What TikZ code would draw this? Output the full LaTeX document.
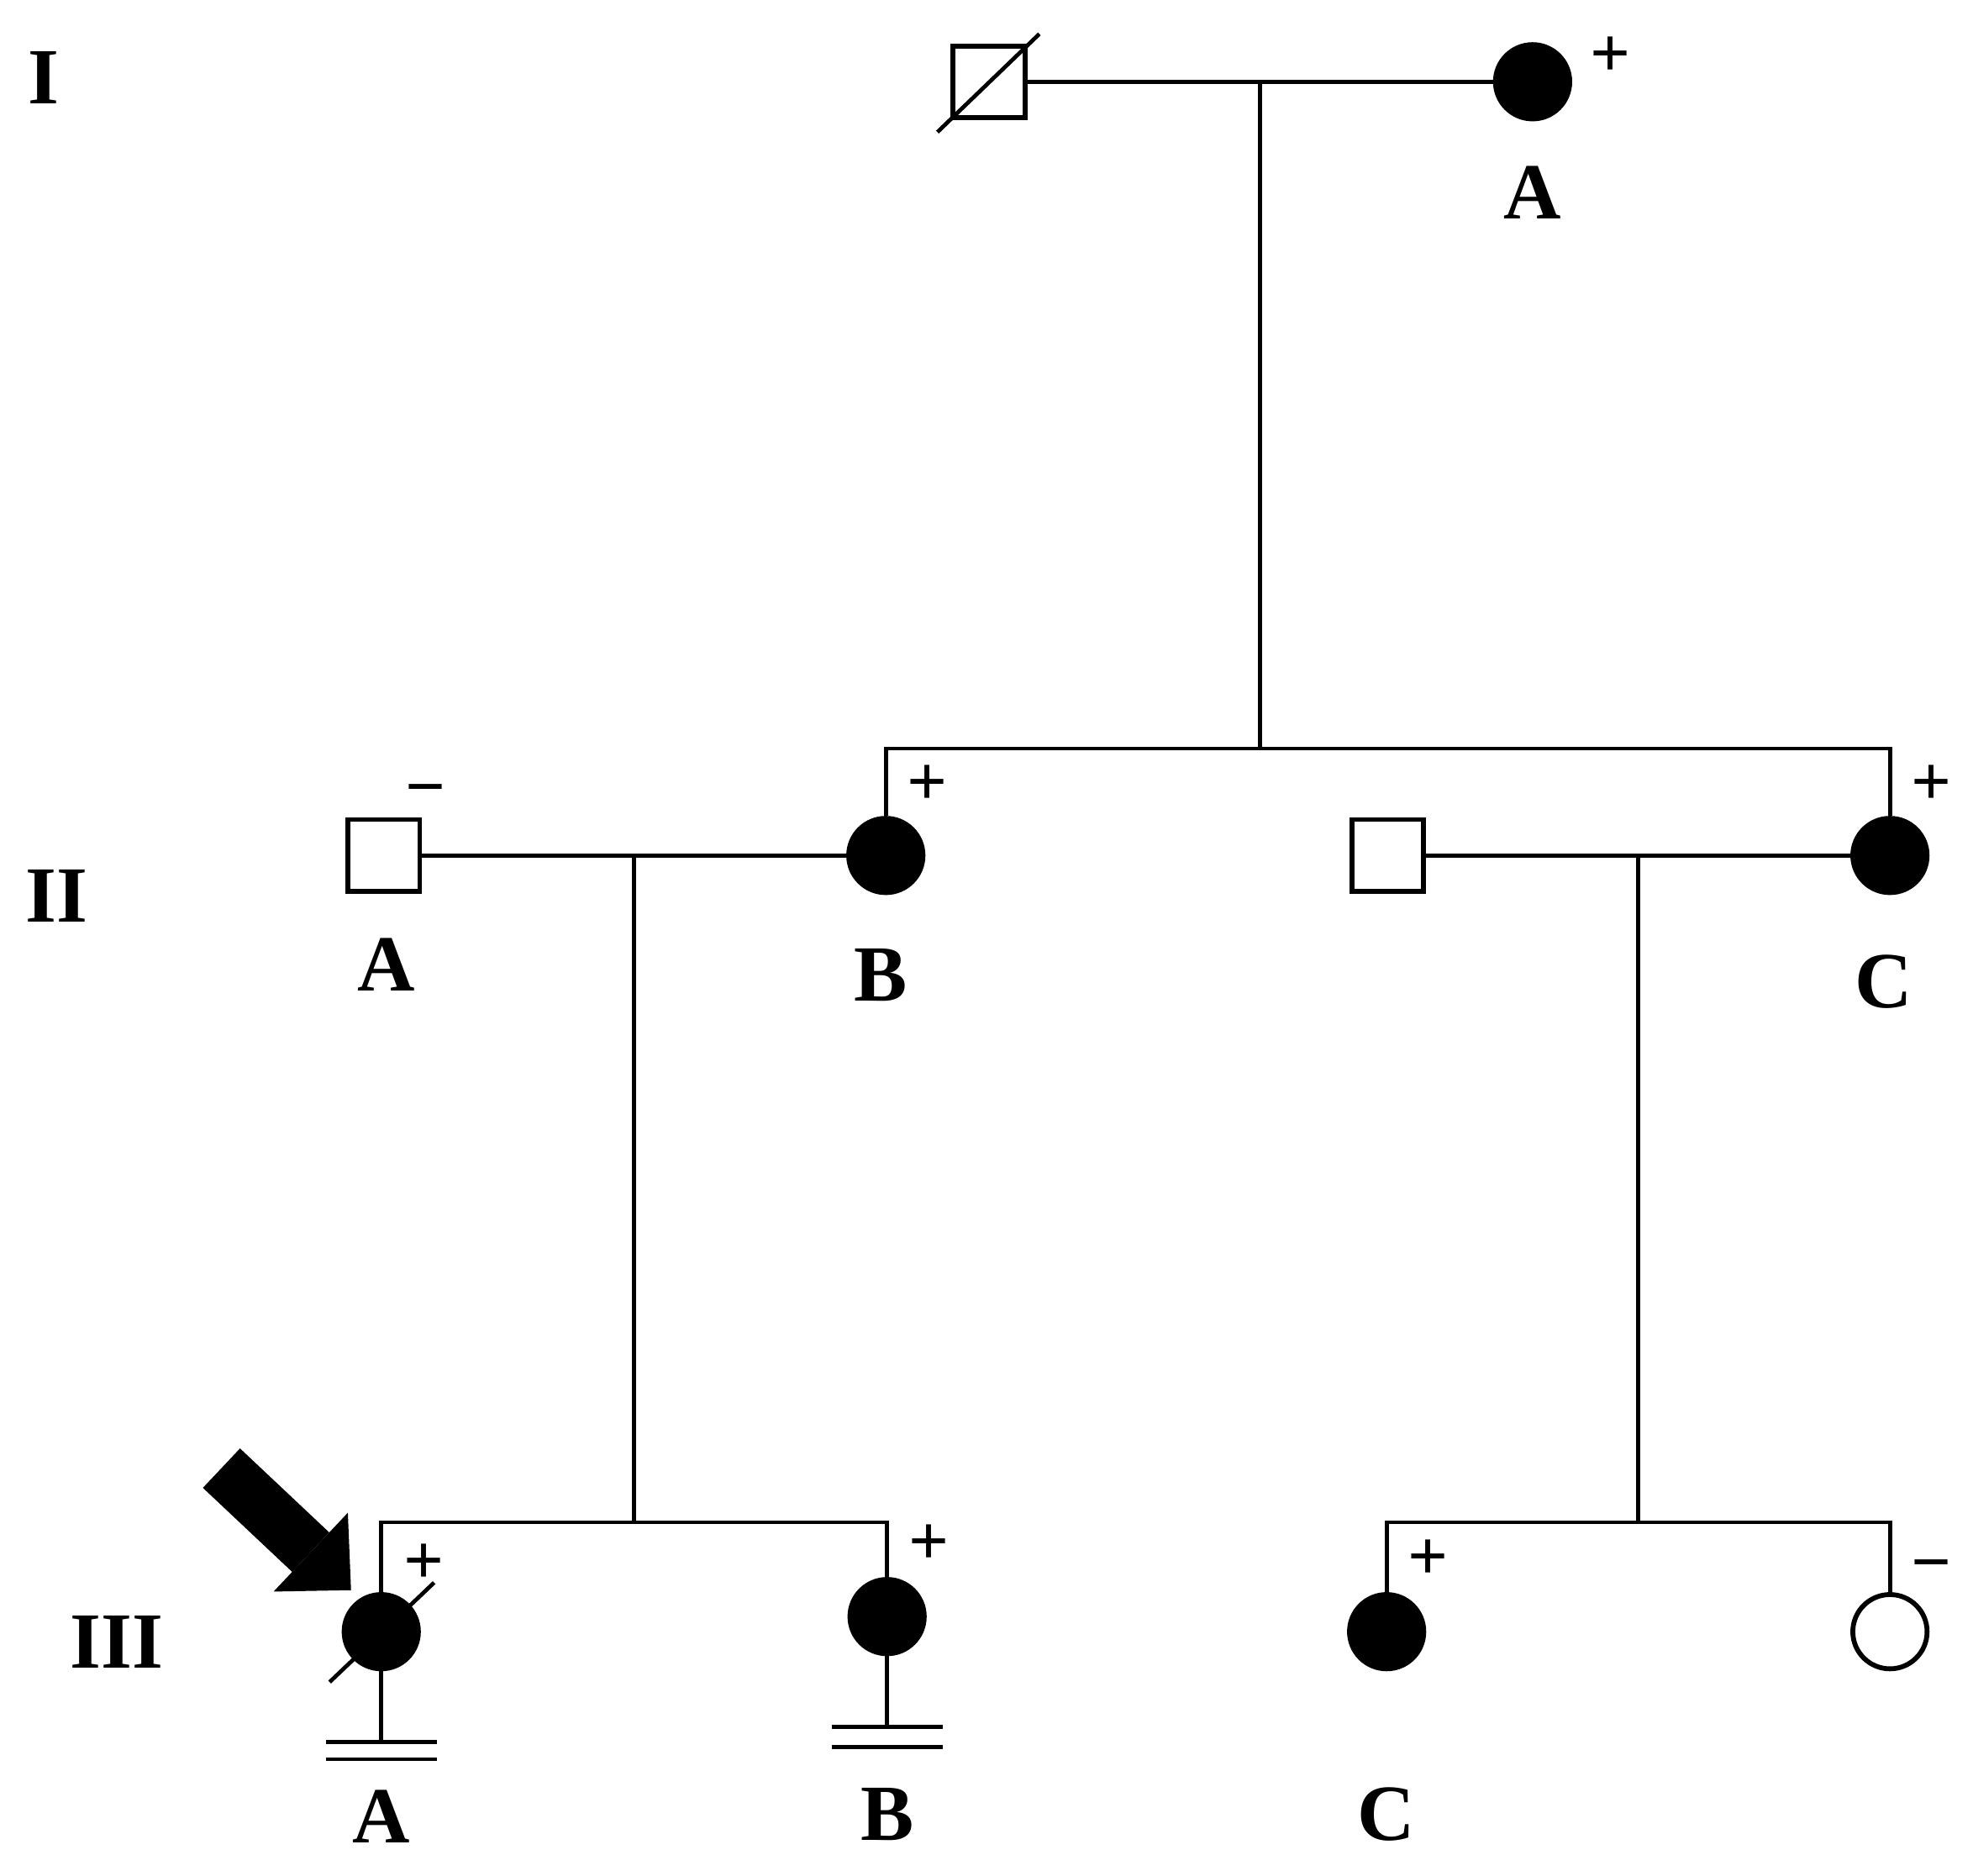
\documentclass[tikz,border=0pt]{standalone}
\usepackage{fontspec}
\setmainfont{Liberation Serif}
\usetikzlibrary{positioning, calc, arrows.meta}

\begin{document}
\begin{tikzpicture}[
        x=0.01cm, y=-0.01cm,
        line width=0.9pt,
        male/.style={
            rectangle,
            draw,
            fill=white,
            line width=1.1pt,
            minimum size=0.57cm,
            inner sep=0pt
        },
        female/.style={
            circle,
            draw,
            fill=white,
            line width=1.1pt,
            minimum size=0.59cm,
            inner sep=0pt
        },
        affected/.style={fill=black},
        sign/.style={font=\fontsize{16}{16}\selectfont\bfseries, inner sep=0pt},
        idlabel/.style={font=\fontsize{18}{18}\selectfont\bfseries, inner sep=0pt},
        gen/.style={font=\fontsize{18}{18}\selectfont\bfseries, inner sep=0pt},
        proband/.style={
            line width=0.43cm,
            -{Triangle[length=0.44cm, width=0.86cm, line width=0pt]}
        }
    ]
        \useasboundingbox (0,0) rectangle (1568,1491);

        % Generation labels
        \node[gen] (genI) at (35,62) {I};
        \node[gen] (genII) at (45,712) {II};
        \node[gen] (genIII) at (93,1305) {III};

        % Generation I
        \node[male] (I1) at (786,65) {};
        \node[female, affected] (I2) at (1218,65) {};
        \draw ([xshift=-0.41cm, yshift=-0.40cm]I1.center) -- ([xshift=0.40cm, yshift=0.38cm]I1.center);
        \node[sign] at ([xshift=0.62cm, yshift=0.20cm]I2.center) {+};
        \node[idlabel] at ([yshift=-0.88cm]I2.center) {A};

        % Generation II
        \node[male] (IIa) at (305,680) {};
        \node[female, affected] (IIb) at (704,680) {};
        \node[male] (IIc) at (1103,680) {};
        \node[female, affected] (IId) at (1502,680) {};
        \node[sign] at ([xshift=0.33cm, yshift=0.46cm]IIa.center) {−};
        \node[sign] at ([xshift=0.33cm, yshift=0.56cm]IIb.center) {+};
        \node[sign] at ([xshift=0.33cm, yshift=0.56cm]IId.center) {+};
        \node[idlabel] at ([xshift=0.02cm, yshift=-0.87cm]IIa.center) {A};
        \node[idlabel] at ([xshift=-0.04cm, yshift=-0.95cm]IIb.center) {B};
        \node[idlabel] at ([xshift=-0.05cm, yshift=-1.00cm]IId.center) {C};

        % Generation III
        \node[female, affected] (IIIa) at (303,1297) {};
        \node[female, affected] (IIIb) at (705,1285) {};
        \node[female, affected] (IIIc) at (1102,1297) {};
        \node[female] (IIId) at (1502,1297) {};
        \draw ([xshift=-0.41cm, yshift=-0.40cm]IIIa.center) -- ([xshift=0.42cm, yshift=0.39cm]IIIa.center);
        \node[sign] at ([xshift=0.34cm, yshift=0.54cm]IIIa.center) {+};
        \node[sign] at ([xshift=0.33cm, yshift=0.57cm]IIIb.center) {+};
        \node[sign] at ([xshift=0.33cm, yshift=0.57cm]IIIc.center) {+};
        \node[sign] at ([xshift=0.33cm, yshift=0.47cm]IIId.center) {−};
        \node[idlabel] at ([yshift=-1.47cm]IIIa.center) {A};
        \node[idlabel] at ([yshift=-1.57cm]IIIb.center) {B};
        \node[idlabel] at ([yshift=-1.45cm]IIIc.center) {C};

        % Mating and sibship lines
        \draw (I1.east) -- (I2.west);
        \coordinate (m1) at ($(I1.east)!0.5!(I2.west)$);
        \coordinate (sib1) at (m1 |- 0,595);
        \draw (m1) -- (sib1);
        \draw (IIb.north) |- (sib1) -| (IId.north);

        \draw (IIa.east) -- (IIb.west);
        \coordinate (m2) at ($(IIa.east)!0.5!(IIb.west)$);
        \coordinate (sib2) at (m2 |- 0,1210);
        \draw (m2) -- (sib2);
        \draw (IIIa.north) |- (sib2) -| (IIIb.north);

        \draw (IIc.east) -- (IId.west);
        \coordinate (m3) at ($(IIc.east)!0.5!(IId.west)$);
        \coordinate (sib3) at (m3 |- 0,1210);
        \draw (m3) -- (sib3);
        \draw (IIIc.north) |- (sib3) -| (IIId.north);

        % No offspring (infertility)
        \draw (IIIa.south) -- ++(0,56) coordinate (IIIa-bar);
        \draw ([xshift=-0.44cm]IIIa-bar) -- ([xshift=0.44cm]IIIa-bar);
        \draw ([xshift=-0.44cm, yshift=-0.14cm]IIIa-bar) -- ([xshift=0.44cm, yshift=-0.14cm]IIIa-bar);
        \draw (IIIb.south) -- ++(0,56) coordinate (IIIb-bar);
        \draw ([xshift=-0.44cm]IIIb-bar) -- ([xshift=0.44cm]IIIb-bar);
        \draw ([xshift=-0.44cm, yshift=-0.16cm]IIIb-bar) -- ([xshift=0.44cm, yshift=-0.16cm]IIIb-bar);

        % Proband arrow
        \coordinate (arrowtail) at (176,1167);
        \coordinate (arrowtip) at ([xshift=-0.24cm, yshift=0.33cm]IIIa.center);
        \draw[proband] (arrowtail) -- (arrowtip);
    \end{tikzpicture}
\end{document}
